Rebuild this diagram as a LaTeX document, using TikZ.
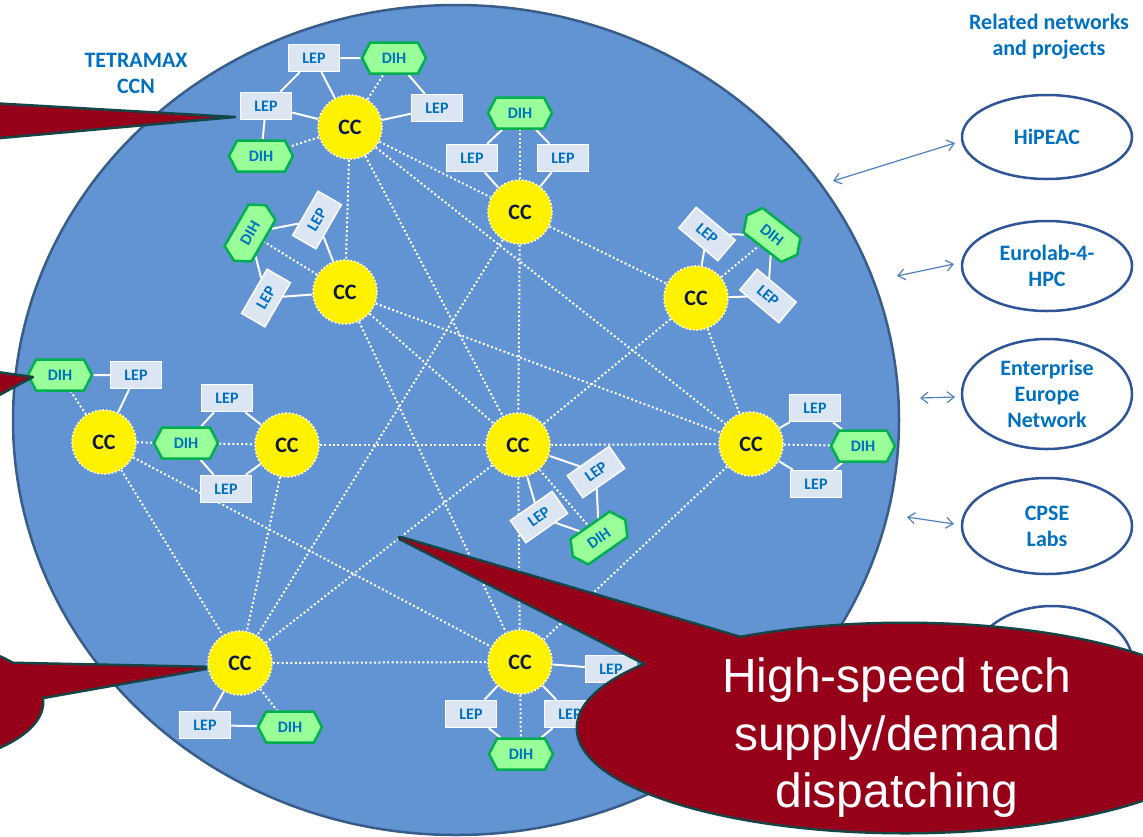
\documentclass[tikz,border=0pt]{standalone}
\usepackage{fontspec}
\setmainfont{Carlito}
\newfontfamily\arialfont{Liberation Sans}
\usetikzlibrary{shapes.geometric,shapes.symbols,arrows.meta,backgrounds,shadows}

\definecolor{discblue}{RGB}{98,148,212}
\definecolor{discedge}{RGB}{56,93,138}
\definecolor{labelblue}{RGB}{0,112,192}
\definecolor{ccnavy}{RGB}{14,24,72}
\definecolor{lepfill}{RGB}{220,230,242}
\definecolor{dihfill}{RGB}{153,255,153}
\definecolor{dihedge}{RGB}{0,176,80}
\definecolor{netedge}{RGB}{47,85,151}
\definecolor{arrowblue}{RGB}{79,129,189}
\definecolor{calloutred}{RGB}{150,0,24}
\definecolor{calloutedge}{RGB}{20,70,72}

\tikzset{
  cc/.style={circle, fill=yellow, draw=white, dotted, line width=1.6pt, minimum size=64pt, inner sep=0pt, text=ccnavy, font=\bfseries\fontsize{22}{22}\selectfont},
  lep/.style={rectangle, fill=lepfill, draw=white, line width=1.5pt, minimum width=51pt, minimum height=27pt, inner sep=0pt, text=labelblue, font=\bfseries\fontsize{16}{16}\selectfont},
  dih/.style={signal, signal to=east and west, signal pointer angle=125, fill=dihfill, draw=dihedge, line width=2.5pt, minimum width=64pt, minimum height=31pt, inner sep=0pt, text=labelblue, font=\bfseries\fontsize{16}{16}\selectfont},
  link/.style={white, line width=2pt, dash pattern=on 2pt off 2.4pt},
  tie/.style={white, line width=2pt},
  net/.style={ellipse, draw=netedge, line width=2.5pt, minimum width=170pt, inner sep=0pt, align=center, text=labelblue, font=\bfseries\fontsize{22}{26}\selectfont},
  heading/.style={align=center, text=labelblue, font=\bfseries\fontsize{22}{26}\selectfont},
  calloutline/.style={draw=calloutedge, line width=5pt, line join=round},
  calloutfill/.style={fill=calloutred}
}

\begin{document}
\begin{tikzpicture}[x=1pt, y=-1pt, >={Straight Barb[length=7pt, width=11pt]}]
\useasboundingbox (0,0) rectangle (1143,836);
\clip (0,0) rectangle (1143,836);

\node [cc] (cc1) at (350,127) {CC};
\node [cc] (cc2) at (520,212) {CC};
\node [cc] (cc3) at (345,292) {CC};
\node [cc] (cc4) at (696,298) {CC};
\node [cc] (cc5) at (104,442) {CC};
\node [cc] (cc6) at (287,445) {CC};
\node [cc, drop shadow={opacity=0.3, shadow xshift=2pt, shadow yshift=-2pt}] (cc7) at (518,445) {CC};
\node [cc] (cc8) at (751,444) {CC};
\node [cc] (cc9) at (240,663) {CC};
\node [cc] (cc10) at (520,662) {CC};

\node [lep] (lep1a) at (314,58) {LEP};
\node [dih] (dih1a) at (394,58) {DIH};
\node [lep] (lep1b) at (266,106) {LEP};
\node [lep] (lep1c) at (437,108) {LEP};
\node [dih] (dih1b) at (261,156) {DIH};

\node [dih] (dih2) at (520,113) {DIH};
\node [lep] (lep2a) at (472,158) {LEP};
\node [lep] (lep2b) at (563,158) {LEP};

\node [dih, rotate=60] (dih3) at (250,233) {DIH};
\node [lep, rotate=60] (lep3a) at (317,220) {LEP};
\node [lep, rotate=60] (lep3b) at (266,298) {LEP};

\node [lep, rotate=-40] (lep4a) at (707,234) {LEP};
\node [dih, rotate=-38] (dih4) at (772,235) {DIH};
\node [lep, rotate=-40] (lep4b) at (768,296) {LEP};

\node [dih] (dih5) at (60,375) {DIH};
\node [lep] (lep5) at (136,375) {LEP};

\node [lep] (lep6a) at (227,398) {LEP};
\node [dih] (dih6) at (186,443) {DIH};
\node [lep] (lep6b) at (226,489) {LEP};

\node [lep, rotate=35] (lep7a) at (596,472) {LEP};
\node [lep, rotate=35] (lep7b) at (539,517) {LEP};
\node [dih, rotate=35] (dih7) at (599,538) {DIH};

\node [lep] (lep8a) at (815,408) {LEP};
\node [dih] (dih8) at (863,446) {DIH};
\node [lep] (lep8b) at (816,484) {LEP};

\node [lep] (lep9) at (205,725) {LEP};
\node [dih] (dih9) at (290,727) {DIH};

\node [lep] (lep10a) at (611,669) {LEP};
\node [lep] (lep10b) at (471,714) {LEP};
\node [lep] (lep10c) at (570,714) {LEP};
\node [dih] (dih10) at (521,754) {DIH};

\begin{scope}[on background layer]
  \draw [discedge, line width=2.5pt, fill=discblue] (456,420) ellipse [x radius=443pt, y radius=415pt];
  \foreach \a/\b in {cc1/cc2, cc1/cc3, cc1/cc7, cc1/cc8, cc2/cc4, cc2/cc7, cc2/cc9,
      cc3/cc7, cc3/cc8, cc3/cc10, cc4/cc7, cc4/cc8, cc5/cc9, cc5/cc10, cc5/dih6, dih6/cc6,
      cc6/cc7, cc6/cc9, cc7/cc8, cc7/cc9, cc7/cc10, cc8/cc10, cc9/cc10,
      cc1/dih1a, cc1/dih1b, cc2/dih2, cc3/dih3, cc4/dih4, cc5/dih5, cc7/dih7, cc8/dih8,
      cc9/dih9, cc10/dih10}
    \draw [link] (\a) -- (\b);
  \foreach \a/\b in {lep1a/dih1a, lep1a/lep1b, lep1a/cc1, lep1b/cc1, lep1b/dih1b, dih1a/lep1c, lep1c/cc1,
      dih2/lep2a, dih2/lep2b, lep2a/cc2, lep2b/cc2,
      dih3/lep3a, lep3a/cc3, dih3/lep3b, lep3b/cc3,
      lep4a/dih4, lep4a/cc4, dih4/lep4b, lep4b/cc4,
      dih5/lep5, lep5/cc5,
      lep6a/dih6, lep6a/cc6, lep6b/dih6, lep6b/cc6,
      cc7/lep7a, lep7a/dih7, cc7/lep7b, lep7b/dih7,
      lep8a/cc8, lep8a/dih8, lep8b/cc8, lep8b/dih8,
      cc9/lep9, lep9/dih9,
      cc10/lep10a, cc10/lep10b, cc10/lep10c, lep10b/dih10, lep10c/dih10}
    \draw [tie] (\a) -- (\b);
\end{scope}

\node [heading] (tetramax) at (136,73) {TETRAMAX\\CCN};
\node [heading] (related) at (1049,37) {Related networks\\and projects};

\node [net, minimum height=84pt] (hipeac) at (1047,137) {HiPEAC};
\node [net, minimum height=90pt] (eurolab) at (1047,266) {Eurolab-4-\\HPC};
\node [net, minimum height=110pt] (een) at (1047,394) {Enterprise\\Europe\\Network};
\node [net, minimum height=96pt] (cpse) at (1047,526) {CPSE\\Labs};
\node [net, minimum width=162pt, minimum height=118pt] (other) at (1052,665) {};

\coordinate (hipeacin) at (955,143);
\coordinate (hipeacout) at (833,181);
\coordinate (eurolabin) at (954,264);
\coordinate (eurolabout) at (897,276);
\coordinate (eenin) at (955,397);
\coordinate (eenout) at (920,398);
\coordinate (cpsein) at (954,524);
\coordinate (cpseout) at (907,517);
\draw [<->, arrowblue, line width=1.2pt] (hipeacout) -- (hipeacin);
\draw [<->, arrowblue, line width=1.2pt] (eurolabout) -- (eurolabin);
\draw [<->, arrowblue, line width=1.2pt] (eenout) -- (eenin);
\draw [<->, arrowblue, line width=1.2pt] (cpseout) -- (cpsein);

\filldraw [calloutfill, draw=calloutedge, line width=2.5pt, line join=round] (-10,103) -- (235,117) -- (-10,139) -- cycle;
\filldraw [calloutfill, draw=calloutedge, line width=2.5pt, line join=round] (-10,371) -- (33,377) -- (-10,400) -- cycle;

\draw [calloutline] (-120,702) ellipse [x radius=162pt, y radius=66pt];
\draw [calloutline] (13,664) -- (205,668) -- (42,697) -- cycle;
\fill [calloutfill] (-120,702) ellipse [x radius=162pt, y radius=66pt];
\fill [calloutfill] (13,664) -- (205,668) -- (42,697) -- cycle;

\draw [calloutline] (905,728) ellipse [x radius=327pt, y radius=104pt];
\draw [calloutline] (740,638) -- (400,538) -- (649,665) -- cycle;
\fill [calloutfill] (905,728) ellipse [x radius=327pt, y radius=104pt];
\fill [calloutfill] (740,638) -- (400,538) -- (649,665) -- cycle;
\node [text=white, align=center, font=\arialfont\fontsize{48}{57.5}\selectfont] (pitch) at (897,738) {High-speed tech\\supply/demand\\dispatching};
\end{tikzpicture}
\end{document}
